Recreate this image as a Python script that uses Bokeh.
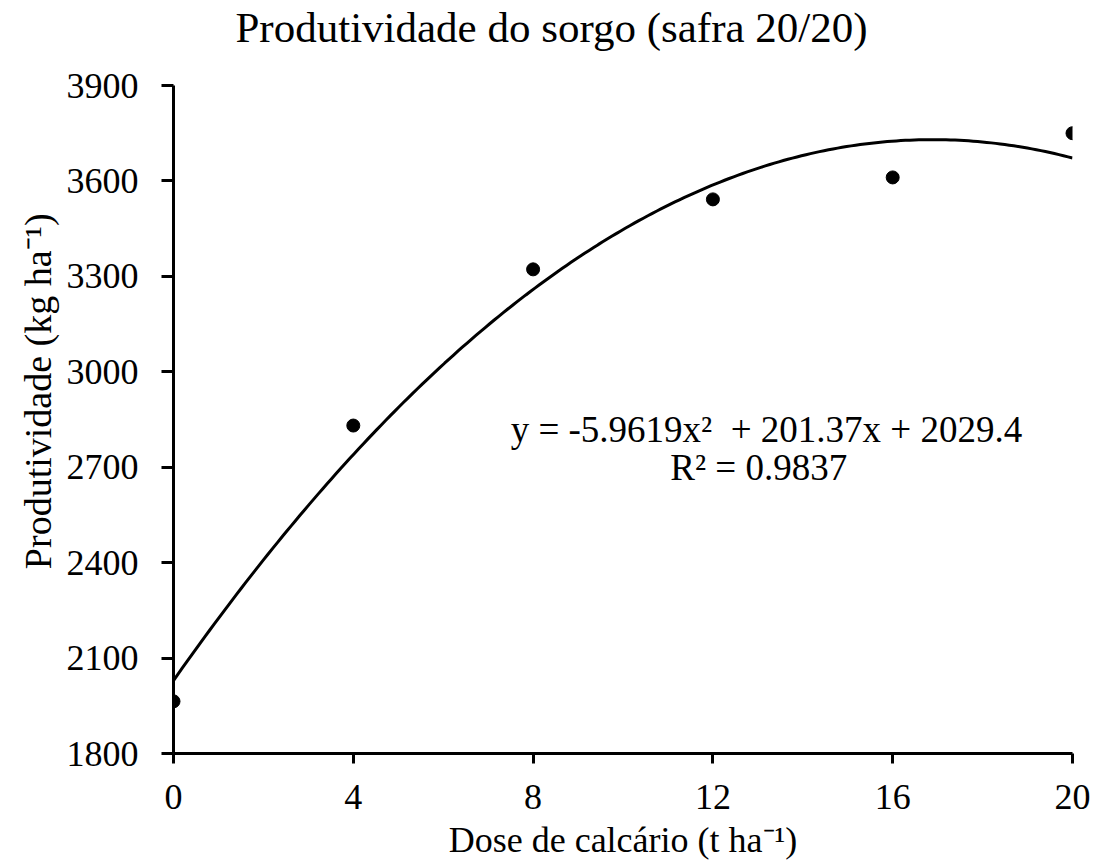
import numpy as np
from bokeh.plotting import figure
from bokeh.models import Range1d, FixedTicker, Label
from bokeh.embed import file_html
from bokeh.resources import INLINE

# Data
dose = [0, 4, 8, 12, 16, 20]
produtividade = [1964, 2831, 3322, 3542, 3611, 3750]
coef = [-5.9619, 201.37, 2029.4]  # quadratic trendline from the chart label
x_ticks = [0, 4, 8, 12, 16, 20]
y_ticks = [1800, 2100, 2400, 2700, 3000, 3300, 3600, 3900]
title_text = "Produtividade do sorgo (safra 20/20)"

FONT = "Liberation Serif"
NB = "\u00a0"

# frame reaches the top of the canvas so the title can sit inside it;
# the y axis line is bounded to 1800-3900 as in the reference
Y0, Y1 = 1800, 3900
units_per_px = (Y1 - Y0) / 668.0
y_top = Y0 + 753 * units_per_px

p = figure(frame_width=899, frame_height=753, output_backend="svg",
           toolbar_location=None, x_range=Range1d(0, 20), y_range=Range1d(Y0, y_top),
           min_border_left=173, min_border_top=0, min_border_bottom=112, min_border_right=35)
p.outline_line_color = None
p.grid.visible = False
p.background_fill_color = "white"
p.border_fill_color = "white"

for ax in (p.xaxis[0], p.yaxis[0]):
    ax.axis_line_width = 3
    ax.axis_line_color = "black"
    ax.major_tick_line_width = 3
    ax.major_tick_line_color = "black"
    ax.major_tick_in = 0
    ax.minor_tick_line_color = None
    ax.major_label_text_font = FONT
    ax.major_label_text_font_size = "36px"
    ax.major_label_text_color = "black"
    ax.axis_label_text_font = FONT
    ax.axis_label_text_font_size = "36px"
    ax.axis_label_text_font_style = "normal"
    ax.axis_label_text_color = "black"

p.xaxis.ticker = FixedTicker(ticks=x_ticks)
p.yaxis.ticker = FixedTicker(ticks=y_ticks)
p.yaxis.bounds = (Y0, Y1)
p.xaxis.major_tick_out = 10
p.yaxis.major_tick_out = 12
p.xaxis.major_label_standoff = 21
p.yaxis.major_label_standoff = 23
p.xaxis.axis_label = "Dose de calcário (t ha\u207b\u00b9)"
p.xaxis.axis_label_standoff = 8
# trailing no-break spaces move the rotated title down a little, as in the reference
p.yaxis.axis_label = "Produtividade (kg ha\u207b\u00b9)" + NB * 3
p.yaxis.axis_label_text_font_size = "38px"
p.yaxis.axis_label_standoff = 5

title = Label(x=8.41, y=Y0 + (753 - 27) * units_per_px, text=title_text,
              text_font=FONT, text_font_size="43px", text_align="center",
              text_baseline="alphabetic", text_color="black")
p.add_layout(title)

xs = np.linspace(0, 20, 200)
ys = coef[0] * xs**2 + coef[1] * xs + coef[2]
p.line(xs, ys, line_color="black", line_width=3)
p.scatter(dose, produtividade, size=13, marker="circle", color="black")

eq = Label(x=13.19, y=2820, text="y = -5.9619x\u00b2" + NB + " + 201.37x + 2029.4",
           text_font=FONT, text_font_size="37px", text_align="center",
           text_baseline="middle", text_color="black")
r2 = Label(x=13.02, y=2698, text="R\u00b2 = 0.9837",
           text_font=FONT, text_font_size="37px", text_align="center",
           text_baseline="middle", text_color="black")
p.add_layout(eq)
p.add_layout(r2)

open("out.html", "w").write(file_html(p, INLINE))
